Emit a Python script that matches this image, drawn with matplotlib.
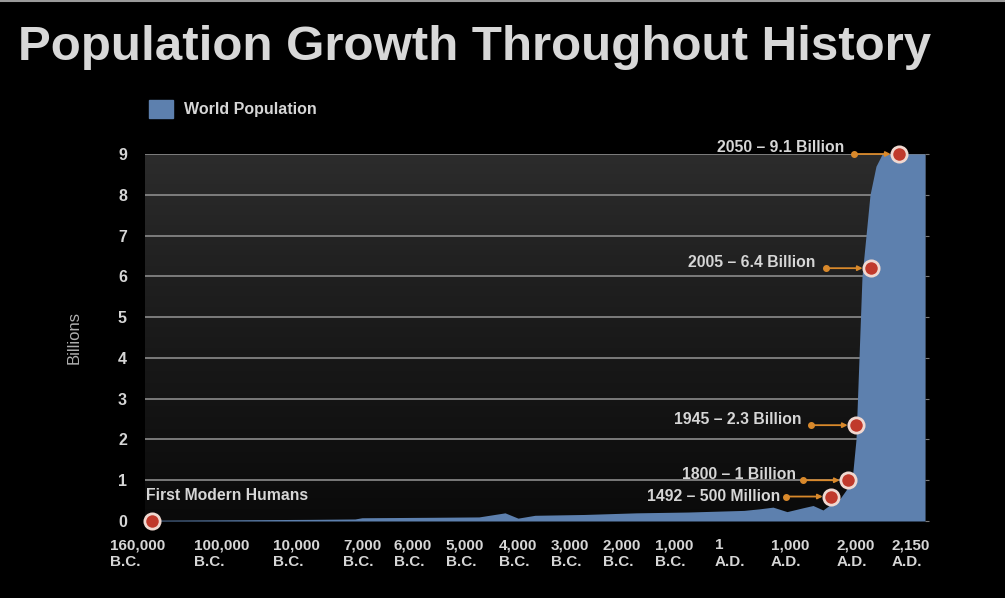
import numpy as np
import matplotlib
matplotlib.use('Agg')
import matplotlib.pyplot as plt
from matplotlib.patches import Patch
from matplotlib.lines import Line2D
from matplotlib.transforms import ScaledTranslation

'''Population growth throughout history, dark slide style.'''

# tick years and their labels
tick_years = [-160000, -100000, -10000, -7000, -6000, -5000, -4000, -3000,
              -2000, -1000, 1, 1000, 2000, 2150]
tick_labels = ['160,000\nB.C.', '100,000\nB.C.', '10,000\nB.C.', '7,000\nB.C.',
               '6,000\nB.C.', '5,000\nB.C.', '4,000\nB.C.', '3,000\nB.C.',
               '2,000\nB.C.', '1,000\nB.C.', '1\nA.D.', '1,000\nA.D.',
               '2,000\nA.D.', '2,150\nA.D.']

# world population curve (billions)
pop_years = [-160000, -100000, -10000, -7955, -7636, -6000, -5000, -4509,
             -4264, -3942, -3000, -2000, -1000, 1, 268, 484, 717, 1000, 1164,
             1345, 1527, 1654, 1760, 1873, 1945, 1957, 1969, 1985, 2001, 2013,
             2023, 2050, 2150]
pop_values = [0.02, 0.03, 0.04, 0.05, 0.08, 0.09, 0.10, 0.20,
              0.07, 0.14, 0.16, 0.20, 0.22, 0.26, 0.30, 0.34, 0.23, 0.33, 0.38,
              0.27, 0.45, 0.55, 0.75, 1.0, 2.0, 4.0, 6.0, 7.0, 8.0, 8.7,
              9.0, 9.0, 9.0]

# highlighted milestones
mark_years = [1492, 1800, 1945, 2005, 2050]
mark_values = [0.6, 1.0, 2.35, 6.2, 9.0]
mark_labels = ['1492 – 500 Million', '1800 – 1 Billion', '1945 – 2.3 Billion',
               '2005 – 6.4 Billion', '2050 – 9.1 Billion']
mark_text_dx = [-6, -7, -10, -11, -10]
mark_text_dy = [0, 6, 6, 6, 6]

# piecewise scale: year -> horizontal slot (pixels of the original slide)
scale_years = [-165000, -160000, -100000, -10000, -7000, -6000, -5000, -4000,
               -3000, -2000, -1000, 1, 1000, 1945, 2005, 2050, 2150]
scale_pos = [0, 7, 91, 165, 231, 282, 334, 387, 439, 491, 543, 599, 659, 711,
             726, 754, 780]


def fwd(v):
    return np.interp(v, scale_years, scale_pos)


def inv(v):
    return np.interp(v, scale_pos, scale_years)


plt.rcParams['font.family'] = ['Liberation Sans', 'DejaVu Sans']
fill_col = '#5d80ae'
txt_col = '#d6d6d6'
orange = '#d9892b'

fig = plt.figure(figsize=(10.05, 5.98), dpi=100, facecolor='black')
fig.add_artist(Line2D([0, 1], [0.998, 0.998], color='#9a9a9a', lw=1.5,
                      transform=fig.transFigure))
ax = fig.add_axes([145/1005, 1-521/598, 780/1005, 367/598])
ax.set_xscale('function', functions=(fwd, inv))

# dark gradient background
grad = np.linspace(0, 1, 256).reshape(-1, 1)
ax.imshow(grad, extent=[0, 1, 0, 1], transform=ax.transAxes, aspect='auto',
          cmap=matplotlib.colors.LinearSegmentedColormap.from_list(
              'bg', ['#0a0a0a', '#1a1a1a', '#2c2c2c']),
          origin='lower', zorder=0)

for g in range(1, 10):
    ax.axhline(g, color='#8c8c8c', lw=1.2, zorder=1)

ax.fill_between(pop_years, pop_values, 0, color=fill_col, lw=0, zorder=2)

ax.set_xlim(-165000, 2150)
ax.set_ylim(0, 9)

# milestone markers with connector lines
for yr, val, lab, tdx, tdy in zip(mark_years, mark_values, mark_labels,
                                  mark_text_dx, mark_text_dy):
    ax.annotate('', xy=(yr, val), xytext=(-45, 0), textcoords='offset pixels',
                arrowprops=dict(arrowstyle='-|>', color=orange, lw=1.3,
                                shrinkA=0, shrinkB=6, mutation_scale=7),
                zorder=4)
    off = ax.transData + ScaledTranslation(-45/100, 0, fig.dpi_scale_trans)
    ax.plot([yr], [val], 'o', ms=4, color=orange, transform=off, zorder=5,
            clip_on=False)
    toff = ax.transData + ScaledTranslation((-45 + tdx)/100, tdy/100,
                                            fig.dpi_scale_trans)
    ax.text(yr, val, lab, transform=toff, ha='right', va='center',
            fontsize=11.3, fontweight='bold', color=txt_col, zorder=5)
ax.plot(mark_years, mark_values, 'o', ms=11, color='#c0392b', mec='#f0d8d0',
        mew=2, zorder=6, clip_on=False)

ax.plot([-160000], [0], 'o', ms=11, color='#c0392b', mec='#f0d8d0', mew=2,
        zorder=6, clip_on=False)
toff = ax.transData + ScaledTranslation(-6/100, 26/100, fig.dpi_scale_trans)
ax.text(-160000, 0, 'First Modern Humans', transform=toff, ha='left',
        va='center', fontsize=11.3, fontweight='bold', color=txt_col, zorder=5)

# axes styling
for s in ax.spines.values():
    s.set_visible(False)
ax.set_yticks(range(0, 10))
ax.tick_params(axis='y', left=False, right=True, length=3, color='#777777',
               labelsize=11.5, labelcolor=txt_col, pad=10)
for t in ax.get_yticklabels():
    t.set_fontweight('bold')
ax.set_xticks(tick_years)
ax.set_xticklabels(tick_labels, fontsize=11, fontweight='bold',
                   color=txt_col, linespacing=1.2)
ax.tick_params(axis='x', bottom=False, pad=9)
shift = ScaledTranslation(-14/100, 0, fig.dpi_scale_trans)
for t in ax.get_xticklabels():
    t.set_multialignment('left')
    t.set_transform(t.get_transform() + shift)
ax.set_ylabel('Billions', color='#b0b0b0', fontsize=12, labelpad=26)

fig.legend(handles=[Patch(color=fill_col, label='World Population')],
           loc='center left', bbox_to_anchor=(135/1005, 1-109/598),
           frameon=False, handlelength=1.45, handleheight=1.3,
           handletextpad=0.7,
           labelcolor=txt_col, prop={'weight': 'bold', 'size': 11.5})

fig.text(18/1005, 1-48/598, 'Population Growth Throughout History',
         fontsize=35.5, fontweight='bold', color='#d8d8d8', va='center',
         ha='left')

fig.savefig('out.png', dpi=100, facecolor='black')
